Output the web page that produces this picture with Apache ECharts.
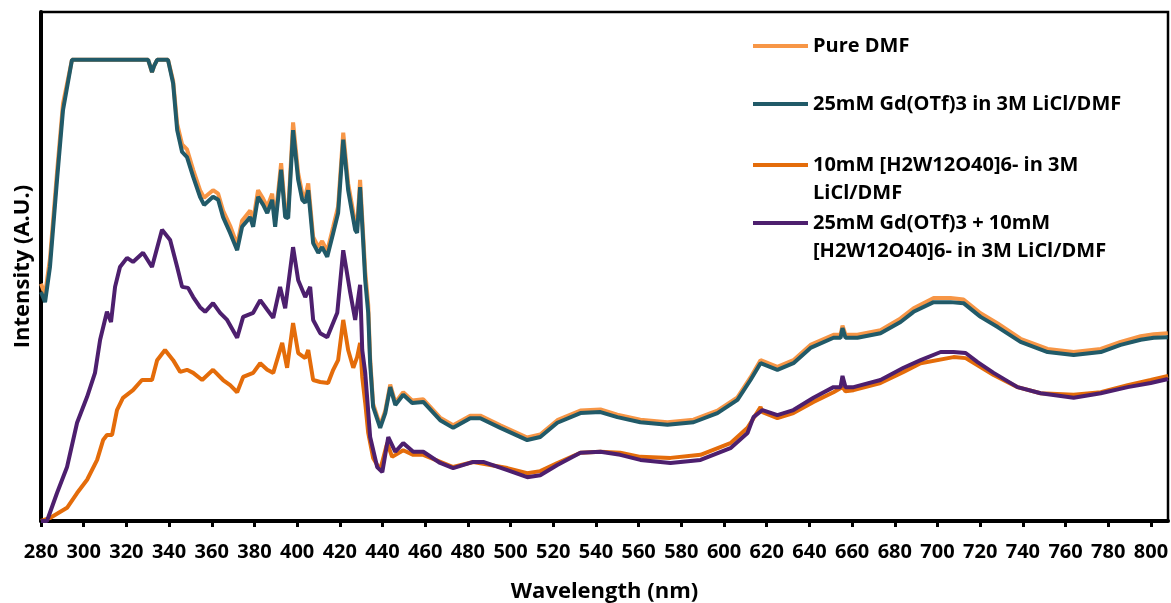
<!DOCTYPE html>
<html>
<head>
<meta charset="utf-8">
<title>Intensity vs wavelength</title>
<script src="https://cdn.jsdelivr.net/npm/echarts@6/dist/echarts.min.js"></script>
<style>
  html, body { margin: 0; padding: 0; background: #fff; }
  #chart { width: 1171px; height: 603px; }
</style>
</head>
<body>
<div id="chart"></div>
<script>
// wavelengths (nm) read for the two upper curves
var wlGd = [280,281.9,284.2,287.5,290.3,294.5,330.2,331.1,332,333,334.4,339.5,
  341.9,343.8,346.1,348.4,351.3,354.5,356.4,360.6,363,365.3,
  368.6,371.9,374.2,378,379.4,381.7,384.1,386,388.3,389.7,
  392.5,394.4,395.8,398.1,400.5,402.4,403.8,405.2,407.5,409.9,
  411.7,414.1,416.9,419.2,421.6,423.9,425.8,427.2,428.1,429.5,
  430.9,431.9,433.3,434.2,435.6,438.9,441.3,443.6,446,449.7,
  453.9,459.1,467,473.1,481.1,485.8,495.2,507.8,513.9,521.9,
  532.7,542.1,550,560.8,573.5,585.7,596.9,606.3,612.4,617.1,
  625,632.5,640.5,651.3,654.6,655.5,656.9,662.5,673.3,682.7,
  688.8,698.2,706.1,712.2,720.2,728.2,738.9,751.6,763.8,776.5,
  785.8,795.2,801.3,807.9];

var pureDMF = [46.6,44.5,51.5,68.5,82,90.6,90.6,89.4,88.2,89.4,90.6,90.6,
  86.5,78,74,73,69,65,63.5,65,64.3,61,
  58,54.3,59,61,59,65,63.3,61.7,64.3,59,
  70.3,61,60.7,78.3,68.3,64.3,63.7,66.3,55.8,53.8,
  55,53,57.8,61.8,76.3,66.3,61.8,58.4,57.8,67,
  56.5,49,42.5,32,23,18.8,21.7,26.8,23.3,25.3,
  23.7,23.9,20.3,18.8,20.7,20.7,18.8,16.4,17,19.8,
  21.7,21.9,20.9,19.9,19.4,19.9,21.7,24.3,28.2,31.6,
  30.3,31.6,34.6,36.6,36.6,38.4,36.6,36.6,37.5,39.8,
  41.8,43.8,43.8,43.5,40.8,38.8,35.8,33.8,33.2,33.8,
  35.2,36.3,36.7,36.9];

var gdOTf = [45,43,49.9,67,80.7,90.6,90.6,89.4,88.2,89.4,90.6,90.6,
  86,76.8,72.5,71.5,67.6,63.7,62.1,63.7,63.1,59.7,
  56.6,53.2,57.8,59.7,57.8,63.7,62.1,60.5,63.1,57.8,
  69,59.7,59.5,76.8,67,63.1,62.5,65,54.6,52.7,
  53.8,51.9,56.6,60.5,74.9,65,60.5,57.2,56.6,65.6,
  55.2,47.3,40.9,31,22.4,18.3,21.2,26.3,22.8,24.8,
  23.2,23.4,19.8,18.3,20.2,20.2,18.3,15.9,16.5,19.3,
  21.2,21.4,20.4,19.4,18.9,19.4,21.2,23.8,27.7,31,
  29.7,31,34,36,36,37.9,36,36,36.9,39.1,
  41.1,43,43,42.8,40.1,38.1,35.2,33.2,32.6,33.2,
  34.6,35.6,36,36.1];

var wlPOM = [280,284.2,292.2,296.9,301.6,306.3,309.1,310.9,313.3,315.6,
  318.4,323.1,327.3,332,334.4,338.1,341.9,345.2,348.4,351.3,
  355.5,360.6,365.3,368.6,371.9,374.7,379.4,382.7,386,388.8,
  393,395.3,398.1,400.5,403.8,405.2,407.5,410.8,414.5,416.9,
  419.2,421.6,423.9,426.3,428.1,429.5,430.5,431.9,433.3,435.6,
  438.9,442.2,444.5,449.7,454.4,459.1,473.1,482.5,498.5,507.8,
  513.9,521.9,532.7,542.1,551.4,560.8,574.9,589,603,611,
  617.1,618,625,632.5,641.9,651.3,655.5,656.9,660.7,673.3,
  684.1,692.1,707.5,713.2,718.8,726.3,737.5,748.3,763.8,776.5,
  789.1,799.9,808];

var pomOnly = [0,0.6,2.6,5.5,8.1,12,15.9,16.9,16.9,21.8,
  24.2,25.7,27.7,27.7,31.6,33.6,31.6,29.3,29.7,29.1,
  27.7,29.7,27.7,26.7,25.3,28.3,29.1,31,29.7,29.1,
  35,30.1,38.9,33,32,33.6,27.7,27.3,27.1,29.7,
  31.6,39.5,33.6,30.1,32.2,35,28.3,23.2,17.3,12.4,
  10,15.3,12.6,13.9,13,13,10.6,11.6,10.4,9.4,
  9.8,11.4,13.4,13.6,13.4,12.6,12.4,13,15.3,18.3,
  22.4,21.4,20.2,21.2,23.4,25.3,26.3,25.5,25.7,27.1,
  29.3,31,32.2,32,30.6,28.7,26.3,25.1,24.8,25.3,
  26.7,27.7,28.5];

var wlMix = [280,282.8,287.5,292.2,296.9,301.6,305.3,307.7,310.9,312.8,
  314.7,317,320.3,323.1,327.8,332,336.7,340.5,343.8,346.1,
  348.9,351.3,354.5,356.9,360.6,363.9,367.2,371.9,374.7,379.4,
  382.7,386,388.8,392,394.4,398.1,400.5,403.8,406.1,407.5,
  410.8,414.1,418.8,421.6,424.9,427.2,429.5,430.5,431.9,434.2,
  437.5,439.9,442.7,446,449.7,454.4,459.1,467,473.1,482.5,
  487.2,498.5,507.8,513.9,521.9,532.7,542.1,551.4,560.8,574.9,
  589,603,611,613.8,618,625,632.5,641.9,651.3,654.6,
  655.5,656.9,660.7,673.3,684.1,692.1,701.5,707.5,713.2,718.8,
  726.3,737.5,748.3,763.8,776.5,789.1,799.9,808];

var gdPOM = [0,0,5.5,10.6,19.3,24.4,29.1,35.6,41.1,39.1,
  46,49.9,51.7,50.9,52.7,49.9,57.2,55.2,49.9,46,
  45.8,44,42,41.1,42.8,40.9,39.5,36,40.1,40.9,
  43.4,41.5,39.9,46,41.8,53.8,47.3,44,46,39.5,
  36.9,36.1,40.9,53.2,44.8,39.5,46.4,33.6,29.1,16.5,
  10.6,9.6,16.5,13.6,15.3,13.6,13.6,11.4,10.4,11.6,
  11.6,10,8.6,9,11,13.4,13.6,13,12,11.4,
  12,14.3,17.3,20.4,21.8,20.8,21.8,24.2,26.3,26.3,
  28.5,26.3,26.3,27.7,30.1,31.6,33.2,33.2,33,31.2,
  29.1,26.3,25.1,24.2,25.1,26.3,27.1,27.9];

var xTicks = [280,300,320,340,360,380,400,420,440,460,480,500,520,540,560,
  580,600,620,640,660,680,700,720,740,760,780,800];

var names = ['Pure DMF', '25mM Gd(OTf)3 in 3M LiCl/DMF',
  '10mM [H2W12O40]6- in 3M LiCl/DMF',
  '25mM Gd(OTf)3 + 10mM [H2W12O40]6- in 3M LiCl/DMF'];
var colors = ['#F79646', '#215A68', '#E46C0A', '#4D1F6E'];

function zip(xs, ys) {
  return xs.map(function (x, i) { return [x, ys[i]]; });
}

var font = 'Open Sans';

// one legend per entry so each can sit where the original puts it;
// wrapped names get a blank first line so the swatch lines up with line one
function makeLegend(i, top, fmt) {
  return {
    data: [names[i]],
    left: 753,
    top: top,
    padding: 0,
    icon: 'rect',
    itemWidth: 55,
    itemHeight: 4,
    selectedMode: false,
    formatter: fmt,
    textStyle: {
      fontFamily: font, fontWeight: 'bold', fontSize: 20, color: '#000',
      lineHeight: 28
    }
  };
}

var chart = echarts.init(document.getElementById('chart'));
chart.setOption({
  animation: false,
  backgroundColor: '#fff',
  color: colors,
  grid: {
    left: 41, right: 3, top: 12, bottom: 82,
    outerBoundsMode: 'none',
    containLabel: false,
    show: true, borderColor: '#000', borderWidth: 2.5
  },
  legend: [
    makeLegend(0, 32),
    makeLegend(1, 90),
    makeLegend(2, 123, function () { return '\n10mM [H2W12O40]6- in 3M\nLiCl/DMF'; }),
    makeLegend(3, 181, function () { return '\n25mM Gd(OTf)3 + 10mM\n[H2W12O40]6- in 3M LiCl/DMF'; })
  ],
  xAxis: {
    type: 'value',
    min: 280,
    max: 808,
    interval: 20,
    name: 'Wavelength (nm)',
    nameLocation: 'middle',
    nameGap: 60,
    nameTextStyle: { fontFamily: font, fontWeight: 'bold', fontSize: 22, color: '#000' },
    splitLine: { show: false },
    axisLine: { onZero: false, lineStyle: { color: '#000', width: 4 } },
    axisTick: { customValues: xTicks, length: 6, lineStyle: { color: '#000', width: 3 } },
    axisLabel: {
      customValues: xTicks, margin: 21,
      fontFamily: font, fontWeight: 'bold', fontSize: 20, color: '#000'
    }
  },
  yAxis: {
    type: 'value',
    min: 0,
    max: 100,
    name: 'Intensity (A.U.)',
    nameLocation: 'middle',
    nameGap: 7,
    nameTextStyle: { fontFamily: font, fontWeight: 'bold', fontSize: 22, color: '#000' },
    splitLine: { show: false },
    axisTick: { show: false },
    axisLabel: { show: false },
    axisLine: { show: true, lineStyle: { color: '#000', width: 4 } }
  },
  series: [
    { name: names[0], type: 'line', showSymbol: false, data: zip(wlGd, pureDMF),
      lineStyle: { width: 4, color: colors[0] }, z: 2 },
    { name: names[1], type: 'line', showSymbol: false, data: zip(wlGd, gdOTf),
      lineStyle: { width: 4, color: colors[1] }, z: 3 },
    { name: names[2], type: 'line', showSymbol: false, data: zip(wlPOM, pomOnly),
      lineStyle: { width: 4, color: colors[2] }, z: 2 },
    { name: names[3], type: 'line', showSymbol: false, data: zip(wlMix, gdPOM),
      lineStyle: { width: 4, color: colors[3] }, z: 2 }
  ]
});
</script>
</body>
</html>
